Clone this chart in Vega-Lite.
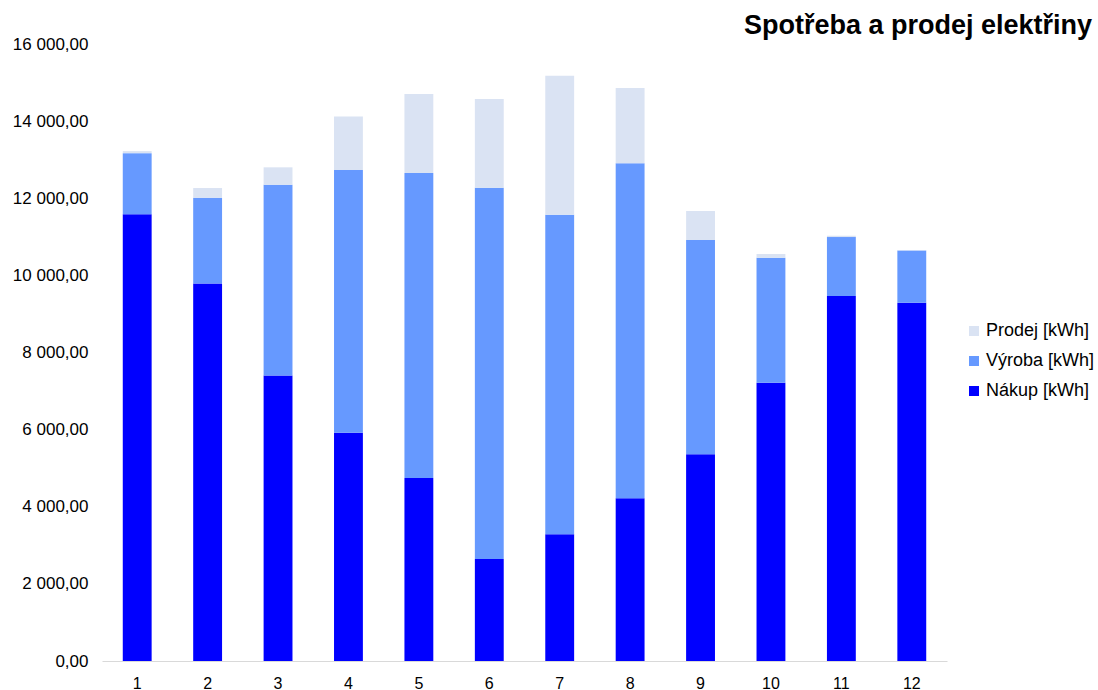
{
  "$schema": "https://vega.github.io/schema/vega-lite/v6.json",
  "width": 845,
  "height": 617,
  "autosize": {"type": "none"},
  "padding": {"left": 102, "top": 44, "right": 151, "bottom": 29},
  "background": "white",
  "title": {
    "text": "Spotřeba a prodej elektřiny",
    "anchor": "end",
    "frame": "group",
    "orient": "top",
    "font": "Liberation Sans",
    "fontSize": 27,
    "fontWeight": "bold",
    "color": "#000000",
    "baseline": "alphabetic",
    "offset": 2,
    "dx": 145,
    "dy": 28
  },
  "data": {
    "values": [
      {"mesic": 1, "serie": "Nákup [kWh]", "kwh": 11588, "poradi": 1},
      {"mesic": 1, "serie": "Výroba [kWh]", "kwh": 1582, "poradi": 2},
      {"mesic": 1, "serie": "Prodej [kWh]", "kwh": 52, "poradi": 3},
      {"mesic": 2, "serie": "Nákup [kWh]", "kwh": 9791, "poradi": 1},
      {"mesic": 2, "serie": "Výroba [kWh]", "kwh": 2225, "poradi": 2},
      {"mesic": 2, "serie": "Prodej [kWh]", "kwh": 249, "poradi": 3},
      {"mesic": 3, "serie": "Nákup [kWh]", "kwh": 7406, "poradi": 1},
      {"mesic": 3, "serie": "Výroba [kWh]", "kwh": 4942, "poradi": 2},
      {"mesic": 3, "serie": "Prodej [kWh]", "kwh": 454, "poradi": 3},
      {"mesic": 4, "serie": "Nákup [kWh]", "kwh": 5917, "poradi": 1},
      {"mesic": 4, "serie": "Výroba [kWh]", "kwh": 6817, "poradi": 2},
      {"mesic": 4, "serie": "Prodej [kWh]", "kwh": 1388, "poradi": 3},
      {"mesic": 5, "serie": "Nákup [kWh]", "kwh": 4745, "poradi": 1},
      {"mesic": 5, "serie": "Výroba [kWh]", "kwh": 7909, "poradi": 2},
      {"mesic": 5, "serie": "Prodej [kWh]", "kwh": 2048, "poradi": 3},
      {"mesic": 6, "serie": "Nákup [kWh]", "kwh": 2645, "poradi": 1},
      {"mesic": 6, "serie": "Výroba [kWh]", "kwh": 9628, "poradi": 2},
      {"mesic": 6, "serie": "Prodej [kWh]", "kwh": 2300, "poradi": 3},
      {"mesic": 7, "serie": "Nákup [kWh]", "kwh": 3285, "poradi": 1},
      {"mesic": 7, "serie": "Výroba [kWh]", "kwh": 8288, "poradi": 2},
      {"mesic": 7, "serie": "Prodej [kWh]", "kwh": 3604, "poradi": 3},
      {"mesic": 8, "serie": "Nákup [kWh]", "kwh": 4219, "poradi": 1},
      {"mesic": 8, "serie": "Výroba [kWh]", "kwh": 8686, "poradi": 2},
      {"mesic": 8, "serie": "Prodej [kWh]", "kwh": 1953, "poradi": 3},
      {"mesic": 9, "serie": "Nákup [kWh]", "kwh": 5360, "poradi": 1},
      {"mesic": 9, "serie": "Výroba [kWh]", "kwh": 5557, "poradi": 2},
      {"mesic": 9, "serie": "Prodej [kWh]", "kwh": 752, "poradi": 3},
      {"mesic": 10, "serie": "Nákup [kWh]", "kwh": 7216, "poradi": 1},
      {"mesic": 10, "serie": "Výroba [kWh]", "kwh": 3242, "poradi": 2},
      {"mesic": 10, "serie": "Prodej [kWh]", "kwh": 96, "poradi": 3},
      {"mesic": 11, "serie": "Nákup [kWh]", "kwh": 9464, "poradi": 1},
      {"mesic": 11, "serie": "Výroba [kWh]", "kwh": 1530, "poradi": 2},
      {"mesic": 11, "serie": "Prodej [kWh]", "kwh": 34, "poradi": 3},
      {"mesic": 12, "serie": "Nákup [kWh]", "kwh": 9291, "poradi": 1},
      {"mesic": 12, "serie": "Výroba [kWh]", "kwh": 1353, "poradi": 2},
      {"mesic": 12, "serie": "Prodej [kWh]", "kwh": 10, "poradi": 3}
    ]
  },
  "mark": {"type": "bar"},
  "encoding": {
    "x": {
      "field": "mesic",
      "type": "ordinal",
      "scale": {"paddingInner": 0.59, "paddingOuter": 0.295},
      "axis": {
        "title": null,
        "labelAngle": 0,
        "ticks": false,
        "labelPadding": 14,
        "labelFontSize": 16,
        "labelFont": "Liberation Sans",
        "labelColor": "#000000",
        "domainColor": "#d9d9d9",
        "domainWidth": 1,
        "grid": false
      }
    },
    "y": {
      "field": "kwh",
      "type": "quantitative",
      "stack": "zero",
      "scale": {"domain": [0, 16000], "nice": false},
      "axis": {
        "title": null,
        "values": [0, 2000, 4000, 6000, 8000, 10000, 12000, 14000, 16000],
        "format": ",.2f",
        "ticks": false,
        "domain": false,
        "grid": false,
        "labelPadding": 14,
        "labelFontSize": 17,
        "labelFont": "Liberation Sans",
        "labelColor": "#000000"
      }
    },
    "color": {
      "field": "serie",
      "type": "nominal",
      "scale": {
        "domain": ["Prodej [kWh]", "Výroba [kWh]", "Nákup [kWh]"],
        "range": ["#dae3f3", "#6699ff", "#0000ff"]
      },
      "legend": {
        "title": null,
        "orient": "none",
        "legendX": 863,
        "legendY": 278,
        "symbolType": "square",
        "symbolSize": 100,
        "symbolStrokeWidth": 0,
        "labelFontSize": 18,
        "labelFont": "Liberation Sans",
        "labelColor": "#000000",
        "labelOffset": 3,
        "rowPadding": 12
      }
    },
    "order": {"field": "poradi", "type": "quantitative"}
  },
  "config": {
    "view": {"stroke": null},
    "locale": {
      "number": {
        "decimal": ",",
        "thousands": " ",
        "grouping": [3],
        "currency": ["", ""]
      }
    }
  }
}
